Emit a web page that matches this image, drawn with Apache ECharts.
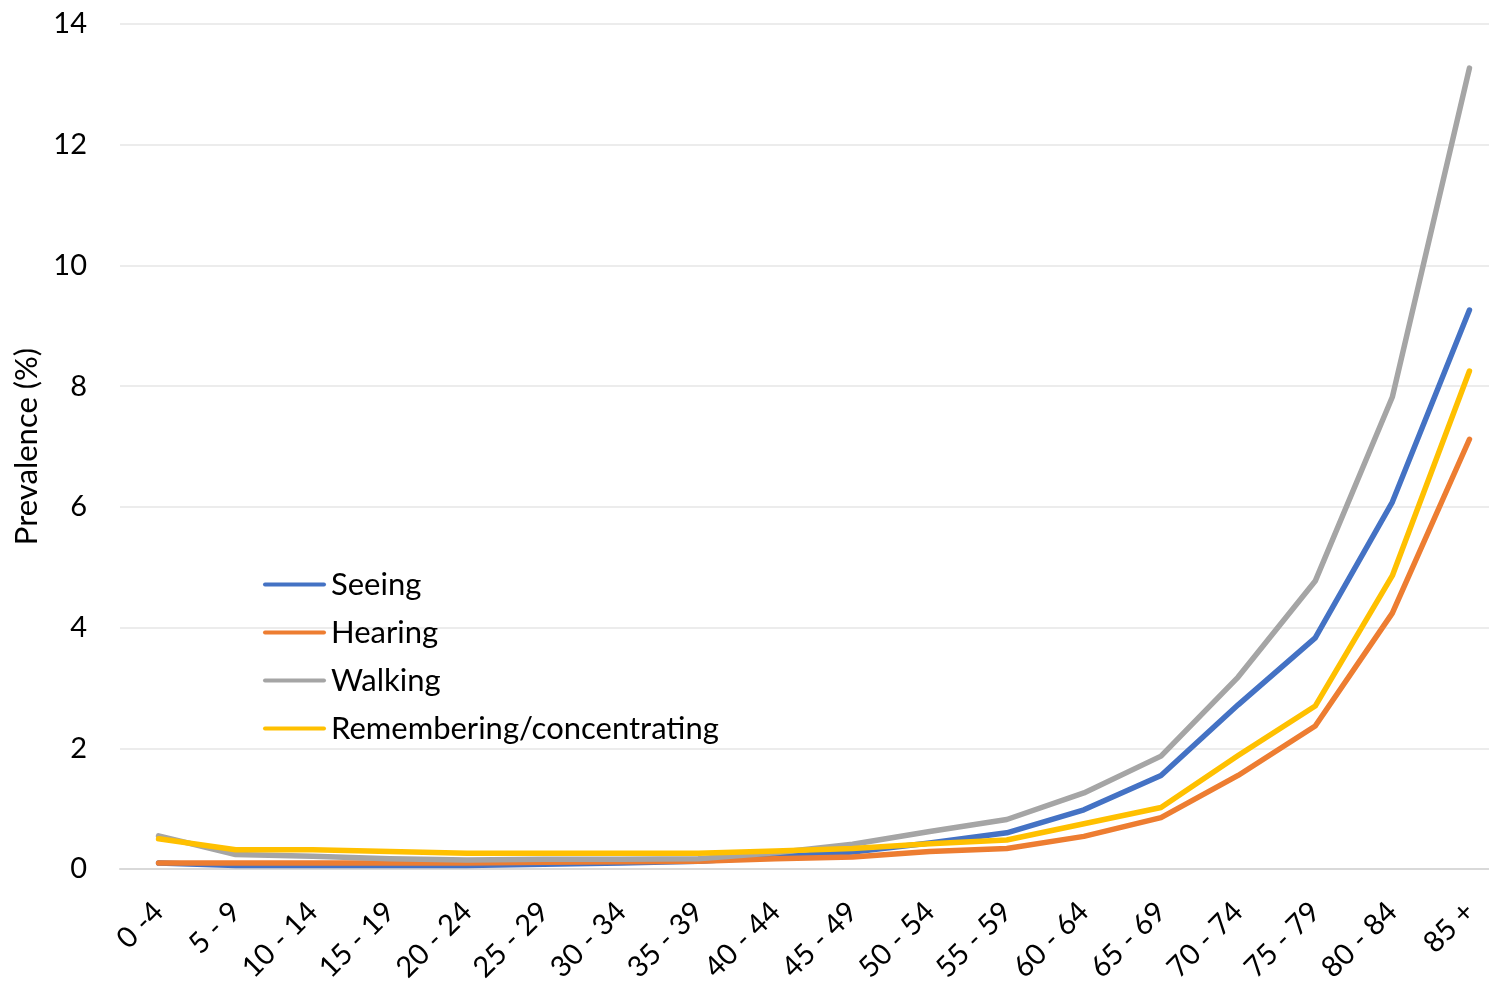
<!DOCTYPE html>
<html>
<head>
<meta charset="utf-8">
<script src="https://cdn.jsdelivr.net/npm/echarts@6/dist/echarts.min.js"></script>
<style>
  html, body { margin: 0; padding: 0; background: #fff; overflow: hidden; }
  /* the plot runs slightly past the right edge of the page */
  #chart { width: 1508px; height: 986px; }
</style>
</head>
<body>
<div id="chart"></div>
<script>
// Age groups (years)
const ageGroups = ['0 -4', '5 - 9', '10 - 14', '15 - 19', '20 - 24', '25 - 29', '30 - 34', '35 - 39',
  '40 - 44', '45 - 49', '50 - 54', '55 - 59', '60 - 64', '65 - 69', '70 - 74', '75 - 79', '80 - 84', '85 +'];

// Prevalence (%) of each functional difficulty by age group
const seeing = [0.10, 0.06, 0.06, 0.06, 0.06, 0.08, 0.10, 0.13, 0.20, 0.28, 0.43, 0.60, 0.98, 1.55, 2.72, 3.83, 6.08, 9.26];
const hearing = [0.10, 0.10, 0.10, 0.10, 0.10, 0.11, 0.12, 0.13, 0.17, 0.20, 0.29, 0.34, 0.54, 0.85, 1.55, 2.37, 4.24, 7.12];
const walking = [0.55, 0.24, 0.21, 0.17, 0.15, 0.16, 0.16, 0.17, 0.27, 0.41, 0.62, 0.82, 1.26, 1.87, 3.18, 4.77, 7.82, 13.27];
const remembering = [0.50, 0.32, 0.32, 0.29, 0.26, 0.26, 0.26, 0.26, 0.30, 0.34, 0.42, 0.48, 0.75, 1.02, 1.88, 2.70, 4.86, 8.25];

const yTicks = { min: 0, max: 14, interval: 2 };

const FONT = 'Lato';
const seriesDefs = [
  { name: 'Seeing', data: seeing, color: '#4472C4' },
  { name: 'Hearing', data: hearing, color: '#ED7D31' },
  { name: 'Walking', data: walking, color: '#A5A5A5' },
  { name: 'Remembering/concentrating', data: remembering, color: '#FFC000' }
];

// thin rounded bar used as the legend key
const LEGEND_KEY = 'path://M2,0 H61 A2,2 0 0 1 61,4 H2 A2,2 0 0 1 2,0 Z';

const chart = echarts.init(document.getElementById('chart'), null, { renderer: 'canvas' });

chart.setOption({
  animation: false,
  backgroundColor: '#ffffff',
  textStyle: { fontFamily: FONT, color: '#000' },
  grid: { left: 120, top: 24, right: 0, bottom: 117, containLabel: false },
  legend: {
    orient: 'vertical',
    left: 258,
    top: 564,
    padding: 5,
    itemWidth: 63,
    itemHeight: 30,
    itemGap: 17,
    icon: LEGEND_KEY,
    textStyle: { fontFamily: FONT, fontSize: 31, color: '#000' },
    data: seriesDefs.map(s => s.name)
  },
  xAxis: {
    type: 'category',
    data: ageGroups,
    boundaryGap: true,
    axisLine: { show: true, lineStyle: { color: '#d9d9d9', width: 2 } },
    axisTick: { show: false },
    axisLabel: {
      rotate: 45,
      margin: 38,
      interval: 0,
      fontFamily: FONT,
      fontSize: 29,
      color: '#000'
    },
    splitLine: { show: false }
  },
  yAxis: {
    type: 'value',
    min: yTicks.min,
    max: yTicks.max,
    interval: yTicks.interval,
    name: 'Prevalence (%)',
    nameLocation: 'middle',
    nameGap: 76,
    nameTextStyle: { fontFamily: FONT, fontSize: 31, color: '#000' },
    axisLine: { show: false },
    axisTick: { show: false },
    axisLabel: { margin: 33, fontFamily: FONT, fontSize: 29, color: '#000' },
    splitLine: { lineStyle: { color: '#e6e6e6', width: 1.5 } }
  },
  series: seriesDefs.map(s => ({
    name: s.name,
    type: 'line',
    data: s.data,
    symbol: 'none',
    color: s.color,
    lineStyle: { color: s.color, width: 5.5, cap: 'round', join: 'round' },
    emphasis: { disabled: true }
  }))
});
</script>
</body>
</html>
